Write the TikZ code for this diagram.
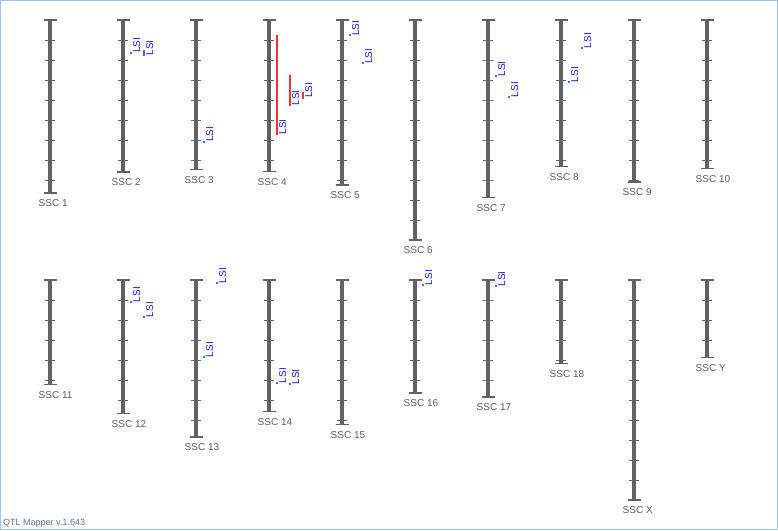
\documentclass[tikz,border=0pt]{standalone}
\usepackage{fontspec}
\setmainfont{Liberation Sans}
\definecolor{chromgray}{RGB}{98,98,98}
\definecolor{labgray}{RGB}{90,90,90}
\definecolor{lsiblue}{RGB}{20,20,245}
\definecolor{dotblue}{RGB}{60,110,250}
\definecolor{qtlred}{RGB}{240,50,50}
\definecolor{framebl}{RGB}{150,200,240}
\definecolor{footcol}{RGB}{95,110,135}
\tikzset{
  chrombar/.style={draw=chromgray, line width=4pt},
  chromcap/.style={draw=chromgray, line width=1.5pt},
  chromtick/.style={draw=chromgray, line width=1pt},
  chromlabel/.style={anchor=base west, inner sep=0pt, text=labgray, font=\fontsize{10}{12}\selectfont},
  lsi/.style={rotate=90, anchor=base west, inner sep=0pt, text=lsiblue, font=\fontsize{10}{12}\selectfont},
  bluemark/.style={fill=dotblue},
  redmark/.style={fill=qtlred},
  footer/.style={anchor=base west, inner sep=0pt, text=footcol, font=\fontsize{9}{11}\selectfont},
}
% #1 name, #2 x, #3 top, #4 bottom, #5 label
\newcommand\chromo[5]{%
  \draw[chrombar] (#2,#3) -- (#2,#4);
  \draw[chromcap] (#2-6.5,#3) -- (#2+6.5,#3);
  \draw[chromcap] (#2-6.5,#4) -- (#2+6.5,#4);
  \pgfmathtruncatemacro\nticks{floor((#4-#3-1)/20)}%
  \foreach \k in {1,...,\nticks} {\draw[chromtick] (#2-5,#3+20*\k) -- (#2+5,#3+20*\k);}
  \node[chromlabel] (#1) at (#2-11.5,#4+13.5) {#5};
}
% #1 name, #2 x, #3 ytop, #4 ybottom, #5 style
\newcommand\qtlmark[5]{%
  \fill[#5] (#2-1,#3) rectangle (#2+1,#4);
  \node[lsi] (#1) at (#2+9,#4-0.5) {LSI};
}
\begin{document}
\begin{tikzpicture}[x=1pt,y=-1pt]
\useasboundingbox (0,0) rectangle (778,530);
\draw[framebl, line width=1pt] (0.5,0.5) rectangle (777.5,529.5);
% row 1
\chromo{c1}{50}{20}{193}{SSC 1}
\chromo{c2}{123}{20}{172}{SSC 2}
\chromo{c3}{196}{20}{169.5}{SSC 3}
\chromo{c4}{269}{20}{171.5}{SSC 4}
\chromo{c5}{342}{20}{185}{SSC 5}
\chromo{c6}{415}{20}{240}{SSC 6}
\chromo{c7}{488}{20}{197.5}{SSC 7}
\chromo{c8}{561}{20}{166.5}{SSC 8}
\chromo{c9}{634}{20}{182}{SSC 9}
\chromo{c10}{707}{20}{168.5}{SSC 10}
% row 2
\chromo{c11}{50}{280}{384.5}{SSC 11}
\chromo{c12}{123}{280}{413.5}{SSC 12}
\chromo{c13}{196}{280}{437}{SSC 13}
\chromo{c14}{269}{280}{411.5}{SSC 14}
\chromo{c15}{342}{280}{424.5}{SSC 15}
\chromo{c16}{415}{280}{393}{SSC 16}
\chromo{c17}{488}{280}{397}{SSC 17}
\chromo{c18}{561}{280}{363.5}{SSC 18}
\chromo{cX}{634}{280}{500}{SSC X}
\chromo{cY}{707}{280}{357.5}{SSC Y}
% markers
\qtlmark{m2a}{131}{51.5}{53.5}{bluemark}
\qtlmark{m2b}{144}{50}{56}{bluemark}
\qtlmark{m3a}{204}{140.5}{142.5}{bluemark}
\qtlmark{m4a}{277}{35}{135}{redmark}
\qtlmark{m4b}{290}{75}{106}{redmark}
\qtlmark{m4c}{303}{91.5}{98.5}{redmark}
\qtlmark{m5a}{350}{34.3}{36.3}{bluemark}
\qtlmark{m5b}{363}{62.3}{64.3}{bluemark}
\qtlmark{m7a}{496}{75}{77}{bluemark}
\qtlmark{m7b}{509}{95.7}{97.7}{bluemark}
\qtlmark{m8a}{569}{80.7}{82.7}{bluemark}
\qtlmark{m8b}{582}{46.7}{48.7}{bluemark}
\qtlmark{m12a}{131}{300.7}{302.7}{bluemark}
\qtlmark{m12b}{144}{315.7}{317.7}{bluemark}
\qtlmark{m13a}{204}{355.7}{357.7}{bluemark}
\qtlmark{m13b}{217}{281.7}{283.7}{bluemark}
\qtlmark{m14a}{277}{381.7}{383.7}{bluemark}
\qtlmark{m14b}{290}{383}{385}{bluemark}
\qtlmark{m16a}{423}{283.7}{285.7}{bluemark}
\qtlmark{m17a}{496}{285}{287}{bluemark}
% footer
\node[footer] (foot) at (3,525) {QTL Mapper v.1.643};
\end{tikzpicture}
\end{document}
